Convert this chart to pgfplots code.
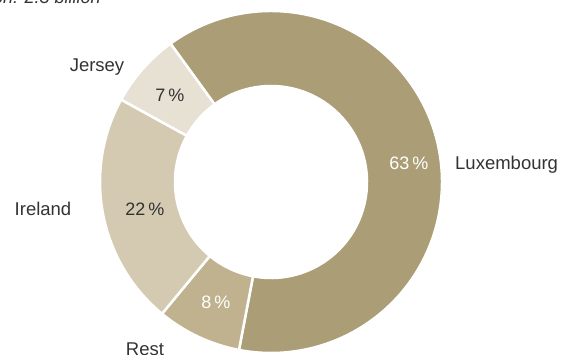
\documentclass[border=0pt]{standalone}
\usepackage{pgfplots}
\usepackage{pgfplotstable}
\pgfplotsset{compat=1.18}
\usepackage{fontspec}
\setmainfont{Liberation Sans}
\definecolor{cLux}{HTML}{AB9E76}
\definecolor{cRest}{HTML}{C1B28F}
\definecolor{cIre}{HTML}{D4CAB1}
\definecolor{cJer}{HTML}{E7E1D3}
\definecolor{txt}{HTML}{333333}

\pgfplotstableread{
name       value fill  tcol  lx   ly  nx   ny  nanchor
Luxembourg 63    cLux  white 409  191 455  189 west
Rest       8     cRest white 216  52  145  5   center
Ireland    22    cIre  txt   145  145 43   145 center
Jersey     7     cJer  txt   170  259 97   287 center
}\donutdata

\begin{document}
\begin{tikzpicture}
\begin{axis}[x=1pt,y=1pt,xmin=0,xmax=563,ymin=0,ymax=354,hide axis,clip=false]
\gdef\astart{126}
\pgfplotsforeachungrouped \i in {0,...,3}{%
  \pgfplotstablegetelem{\i}{value}\of\donutdata \let\v\pgfplotsretval
  \pgfplotstablegetelem{\i}{fill}\of\donutdata \let\fc\pgfplotsretval
  \pgfplotstablegetelem{\i}{tcol}\of\donutdata \let\tc\pgfplotsretval
  \pgfplotstablegetelem{\i}{name}\of\donutdata \let\nm\pgfplotsretval
  \pgfplotstablegetelem{\i}{lx}\of\donutdata \let\lx\pgfplotsretval
  \pgfplotstablegetelem{\i}{ly}\of\donutdata \let\ly\pgfplotsretval
  \pgfplotstablegetelem{\i}{nx}\of\donutdata \let\nx\pgfplotsretval
  \pgfplotstablegetelem{\i}{ny}\of\donutdata \let\ny\pgfplotsretval
  \pgfplotstablegetelem{\i}{nanchor}\of\donutdata \let\na\pgfplotsretval
  \pgfmathsetmacro\aend{\astart-3.6*\v}
  \pgfmathsetmacro\xo{271+171*cos(\astart)}
  \pgfmathsetmacro\yo{172+171*sin(\astart)}
  \pgfmathsetmacro\xi{271+96*cos(\aend)}
  \pgfmathsetmacro\yi{172+96*sin(\aend)}
  \edef\cmd{\noexpand\fill[fill=\fc,draw=white,line width=2.5pt,line join=miter]
    (axis cs:\xo,\yo) arc[start angle=\astart,end angle=\aend,radius=171pt]
    -- (axis cs:\xi,\yi) arc[start angle=\aend,end angle=\astart,radius=96pt] -- cycle;
    \noexpand\node[text=\tc,font=\noexpand\fontsize{18}{20}\noexpand\selectfont] at (axis cs:\lx,\ly) {\v\noexpand\,\noexpand\%};
    \noexpand\node[text=txt,anchor=\na,font=\noexpand\fontsize{18.5}{20}\noexpand\selectfont,inner sep=0pt] at (axis cs:\nx,\ny) {\nm};
  }%
  \cmd
  \xdef\astart{\aend}%
}
\node[anchor=base east,text=txt,font=\itshape\fontsize{18}{20}\selectfont,inner sep=0pt] at (axis cs:101,350) {Total allocation: 2.3 billion};
\end{axis}
\pgfresetboundingbox
\path[use as bounding box] (current axis.south west) rectangle (current axis.north east);
\end{tikzpicture}
\end{document}
